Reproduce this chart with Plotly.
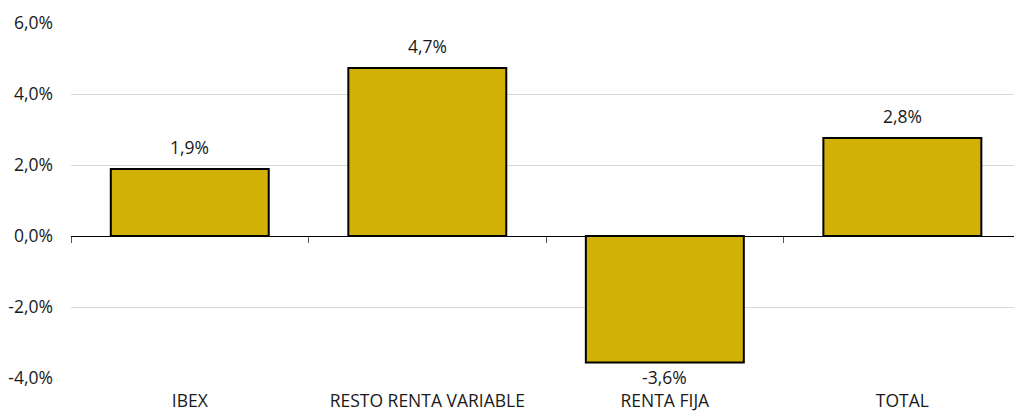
import plotly.graph_objects as go

categories = ["IBEX", "RESTO RENTA VARIABLE", "RENTA FIJA", "TOTAL"]
values = [1.89, 4.73, -3.56, 2.76]
y_ticks = [-4, -2, 0, 2, 4, 6]
y_tick_labels = ["-4,0%", "-2,0%", "0,0%", "2,0%", "4,0%", "6,0%"]

FONT = "Open Sans"
BAR = "#D2B106"
FS = 17.5

fig = go.Figure()
fig.add_trace(go.Bar(
    x=categories, y=values, width=0.665,
    marker=dict(color=BAR, line=dict(color="#000000", width=2)),
    hoverinfo="skip", showlegend=False, cliponaxis=False,
))
# invisible trace to draw the zero axis with boundary ticks
fig.add_trace(go.Scatter(x=[0, 1, 2, 3], y=[None]*4, xaxis="x2", showlegend=False,
                         hoverinfo="skip", mode="markers"))

for c, v in zip(categories, values):
    fig.add_annotation(x=c, y=v, text=f"{v:.1f}%".replace(".", ","),
                       showarrow=False, yshift=22 if v >= 0 else -15,
                       font=dict(family=FONT, size=FS, color="#1a1a1a"))

fig.update_layout(
    width=1014, height=412,
    margin=dict(l=71, r=0, t=23, b=34),
    paper_bgcolor="white", plot_bgcolor="white",
    font=dict(family=FONT, size=FS, color="#1a1a1a"),
    xaxis=dict(range=[-0.5, 3.47], showline=False, ticks="", showgrid=False,
               zeroline=False, ticklabelstandoff=10, automargin=False,
               tickfont=dict(family=FONT, size=FS)),
    xaxis2=dict(overlaying="x", anchor="free", position=0.4, range=[-0.5, 3.47],
                type="linear", showline=True, linecolor="#000000", linewidth=1,
                ticks="outside", ticklen=6, tickcolor="#555555", tickwidth=1,
                tickvals=[-0.5, 0.5, 1.5, 2.5, 3.5], showticklabels=False,
                showgrid=False, zeroline=False, automargin=False),
    yaxis=dict(range=[-4, 6], tickvals=y_ticks, ticktext=y_tick_labels,
               showgrid=True, gridcolor="#D9D9D9", gridwidth=1,
               zeroline=False, showline=False, ticks="", automargin=False,
               ticklabelstandoff=17, tickfont=dict(family=FONT, size=FS)),
)

fig.write_html("out.html", config={"displayModeBar": False},
               post_script="document.body.style.margin='0';")
